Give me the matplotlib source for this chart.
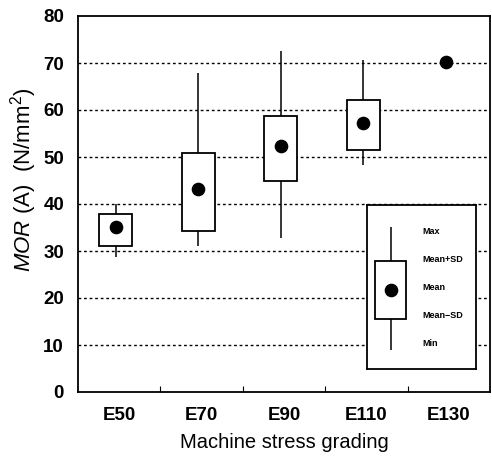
import matplotlib
matplotlib.use("Agg")
import matplotlib.pyplot as plt
from matplotlib.patches import Rectangle

plt.rcParams['font.family'] = ['Liberation Sans', 'DejaVu Sans']
plt.rcParams['mathtext.fontset'] = 'custom'
plt.rcParams['mathtext.rm'] = 'Liberation Sans'
plt.rcParams['mathtext.it'] = 'Liberation Sans:italic'

# Modulus of rupture summary per machine stress grade
grades = ["E50", "E70", "E90", "E110", "E130"]
mor_max = [40.1, 67.8, 72.6, 70.6, None]
mor_mean_plus_sd = [37.8, 50.9, 58.7, 62.1, None]
mor_mean = [35.2, 43.2, 52.3, 57.2, 70.2]
mor_mean_minus_sd = [31.1, 34.3, 44.9, 51.4, None]
mor_min = [28.8, 31.1, 32.7, 48.4, None]

legend_labels = ["Max", "Mean+SD", "Mean", "Mean\u2212SD", "Min"]

W, H = 492, 463
fig = plt.figure(figsize=(W / 100, H / 100), dpi=100)
ax = fig.add_axes([78 / W, (H - 392) / H, (490 - 78) / W, (392 - 16) / H])

x_pos = [i - 0.04 for i in range(len(grades))]
box_w = 0.40

for x, hi, up, m, lo, mn in zip(x_pos, mor_max, mor_mean_plus_sd, mor_mean,
                                  mor_mean_minus_sd, mor_min):
    if up is not None:
        ax.vlines(x, up, hi, color='black', lw=1.1, zorder=3)
        ax.vlines(x, mn, lo, color='black', lw=1.1, zorder=3)
        ax.add_patch(Rectangle((x - box_w / 2, lo), box_w, up - lo,
                               facecolor='white', edgecolor='black',
                               lw=1.3, zorder=4))
    ax.plot([x], [m], 'o', color='black', ms=8.8, zorder=5)

ax.set_xlim(-0.5, len(grades) - 0.5)
ax.set_ylim(0, 80)
ax.set_yticks(range(0, 81, 10))
ax.set_xticks(range(len(grades)))
ax.set_xticklabels(grades)
ax.set_xticks([i + 0.5 for i in range(len(grades) - 1)], minor=True)
ax.tick_params(axis='x', which='major', length=0, pad=11, labelsize=13.5)
ax.tick_params(axis='x', which='minor', length=4, direction='in', width=0.8)
ax.tick_params(axis='y', length=0, pad=10, labelsize=13.5)
for lab in ax.get_xticklabels() + ax.get_yticklabels():
    lab.set_fontweight('bold')

for yv in range(10, 80, 10):
    ax.axhline(yv, color='black', lw=1.0, ls=(0, (2, 2)), zorder=1)

for s in ax.spines.values():
    s.set_linewidth(1.3)

ax.set_xlabel("Machine stress grading", fontsize=14.5, labelpad=6)
ax.set_ylabel(r"$\mathit{MOR}$ (A)  (N/mm$^{2}$)", fontsize=16)
ax.yaxis.set_label_coords(-0.095, 0.564)

# Key explaining the box symbol
lax = fig.add_axes([367 / W, (H - 369) / H, (476 - 367) / W, (369 - 205) / H])
lax.set_xlim(0, 109)
lax.set_ylim(164, 0)
lax.set_xticks([])
lax.set_yticks([])
for s in lax.spines.values():
    s.set_linewidth(1.3)
lax.set_zorder(6)
kx = 24
lax.vlines(kx, 21.7, 145, color='black', lw=1.1)
lax.add_patch(Rectangle((8, 56), 31, 57.7, facecolor='white',
                        edgecolor='black', lw=1.3, zorder=3))
lax.plot([kx], [85], 'o', color='black', ms=8.8, zorder=4)
for lab, yy in zip(legend_labels, [26, 54, 83, 111, 138]):
    lax.text(55, yy, lab, fontsize=6.5, fontweight='bold', va='center', ha='left')

fig.savefig("out.png", dpi=100)
